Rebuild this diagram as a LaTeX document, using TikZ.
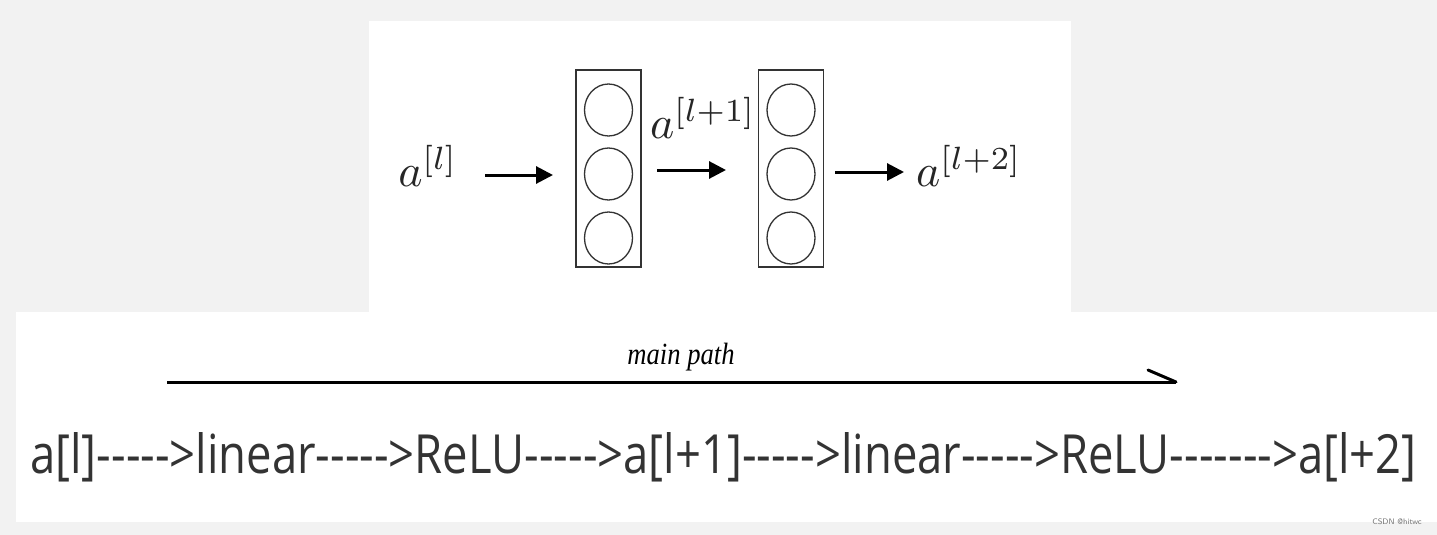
\documentclass[tikz,border=0pt]{standalone}
\usepackage{fontspec}
\setmainfont{Liberation Serif}
\newfontfamily\bottomfont{Open Sans}
\usetikzlibrary{shapes.geometric,arrows.meta}
\definecolor{bggray}{HTML}{F2F2F2}
\definecolor{txtgray}{HTML}{333333}
\begin{document}
\begin{tikzpicture}[x=1pt,y=-1pt,
  panel/.style={fill=white,draw=none},
  layerbox/.style={draw=black!80,line width=1.6pt,minimum width=65pt,minimum height=197pt,inner sep=0pt},
  neuron/.style={ellipse,draw=black!80,line width=1.3pt,minimum width=48pt,minimum height=52pt,inner sep=0pt},
  bigarrow/.style={line width=3pt,-{Triangle[length=17pt,width=17pt]}},
  mathlabel/.style={inner sep=0pt,text=black!85}
]
\useasboundingbox (0,0) rectangle (1437,535);
\fill[bggray] (0,0) rectangle (1437,535);
\fill[panel] (369,21) rectangle (1071,312);
\fill[panel] (16,312) rectangle (1437,522);

% layer boxes
\node[layerbox] (box1) at (608.5,168.5) {};
\node[layerbox] (box2) at (791,168.5) {};
\foreach \b/\x in {1/608.5,2/791}{
  \node[neuron] (n\b a) at (\x,110) {};
  \node[neuron] (n\b b) at (\x,174) {};
  \node[neuron] (n\b c) at (\x,238) {};
}

% labels
\node[mathlabel] (al) at (428,166) {\scalebox{4.6}{$a^{[l]}$}};
\node[mathlabel] (al1) at (703,118) {\scalebox{4.6}{$a^{[l+1]}$}};
\node[mathlabel] (al2) at (969,166) {\scalebox{4.6}{$a^{[l+2]}$}};

% arrows
\coordinate (a1s) at (485,175); \coordinate (a1e) at (553,175);
\coordinate (a2s) at (657,170); \coordinate (a2e) at (726,170);
\coordinate (a3s) at (835,172); \coordinate (a3e) at (904,172);
\draw[bigarrow] (a1s) -- (a1e);
\draw[bigarrow] (a2s) -- (a2e);
\draw[bigarrow] (a3s) -- (a3e);

% main path
\node[font=\itshape\fontsize{28}{32}\selectfont,inner sep=0pt] (mp) at (681,357) {\scalebox{0.95}[1.1]{main path}};
\coordinate (mps) at (167,382);
\coordinate (mpe) at (1176,382);
\coordinate (mph) at (1148,370);
\draw[line width=3pt] (mps) -- (mpe);
\draw[line width=3pt,line cap=round] (mph) -- (mpe);

% bottom text
\node[text=txtgray,inner sep=0pt,anchor=base west] (chain) at (30,473)
  {\resizebox{1386pt}{41pt}{\bottomfont\fontsize{34}{40}\selectfont a[l]----->linear----->ReLU----->a[l+1]----->linear----->ReLU------->a[l+2]}};

% watermark
\node[text=black!55,font=\fontsize{8}{9}\selectfont\sffamily,inner sep=0pt] (wm) at (1397,522) {CSDN @hitwc};
\end{tikzpicture}
\end{document}
